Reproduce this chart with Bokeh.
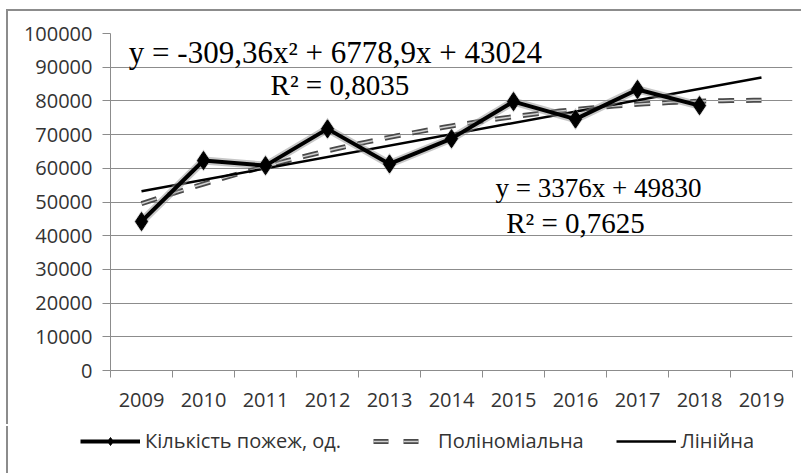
import numpy as np
from bokeh.plotting import figure
from bokeh.layouts import column
from bokeh.models import (Range1d, FixedTicker, PrintfTickFormatter, Legend, LegendItem,
                          Label, ColumnDataSource)
from bokeh.embed import file_html
from bokeh.resources import INLINE

# ---- data ----
years = [2009, 2010, 2011, 2012, 2013, 2014, 2015, 2016, 2017, 2018]
fires = [44200, 62300, 60800, 71700, 61300, 68800, 79800, 74600, 83400, 78600]
axis_years = [2009, 2010, 2011, 2012, 2013, 2014, 2015, 2016, 2017, 2018, 2019]
y_ticks = [0, 10000, 20000, 30000, 40000, 50000, 60000, 70000, 80000, 90000, 100000]
# trend-line coefficients as printed on the chart (x = 1 for 2009)
poly_coef = [-309.36, 6778.9, 43024]
lin_coef = [3376, 49830]
poly_eq = "y = -309,36x²  + 6778,9x + 43024"
poly_r2 = "R² = 0,8035"
lin_eq = "y = 3376x + 49830"
lin_r2 = "R² = 0,7625"
series_names = ["Кількість пожеж, од.", "Поліноміальна", "Лінійна"]

# trend lines evaluated from the printed equations over 2009..2019
x_idx = np.linspace(1, len(axis_years), 81)
trend_x = x_idx + axis_years[0] - 1
poly_y = np.polyval(poly_coef, x_idx)
lin_x = np.array([1, len(axis_years)]) + axis_years[0] - 1
lin_y = np.polyval(lin_coef, np.array([1, len(axis_years)]))

grid_col = "#8c8c8c"
label_col = "#333333"
tick_font = "Open Sans"
tick_size = "20px"

src = ColumnDataSource(dict(x=years, y=fires))
poly_src = ColumnDataSource(dict(x=trend_x, y=poly_y))
lin_src = ColumnDataSource(dict(x=lin_x, y=lin_y))


def draw_series(fig, dash):
    """Draw the three series on a figure; returns renderers for the legend."""
    po = fig.line("x", "y", source=poly_src, line_color="#4a4a4a", line_width=5,
                  line_dash=dash)
    pi = fig.line("x", "y", source=poly_src, line_color="#d0d0d0", line_width=1.5,
                  line_dash=dash)
    li = fig.line("x", "y", source=lin_src, line_color="black", line_width=2.5)
    fig.line("x", "y", source=src, line_color="#909090", line_width=8, line_alpha=0.5)
    fig.scatter("x", "y", source=src, marker="diamond", size=22, fill_color="#909090",
                line_color=None, fill_alpha=0.5)
    dl = fig.line("x", "y", source=src, line_color="black", line_width=4)
    dp = fig.scatter("x", "y", source=src, marker="diamond", size=18, fill_color="black",
                     line_color="black")
    return dl, dp, po, pi, li


p = figure(width=795, height=415, output_backend="svg", toolbar_location=None,
           x_range=Range1d(axis_years[0] - 0.5, axis_years[-1] + 0.5),
           y_range=Range1d(0, 100000),
           min_border_left=102, min_border_right=11, min_border_top=22, min_border_bottom=56)
p.frame_align = False
p.outline_line_color = None
p.background_fill_color = "white"
p.border_fill_color = "white"
p.styles = {"box-shadow": "-2px -2px 0px 0px #8c8c8c"}

# y axis
p.yaxis.ticker = FixedTicker(ticks=y_ticks)
p.yaxis.formatter = PrintfTickFormatter(format="%d")
p.yaxis.axis_line_color = grid_col
p.yaxis.major_tick_line_color = grid_col
p.yaxis.major_tick_out = 8
p.yaxis.major_tick_in = 0
p.yaxis.minor_tick_line_color = None
p.yaxis.major_label_standoff = 10
p.yaxis.major_label_text_font = tick_font
p.yaxis.major_label_text_font_size = tick_size
p.yaxis.major_label_text_color = label_col

# x axis: labels at centres, tick marks between categories
boundaries = [y - 0.5 for y in axis_years] + [axis_years[-1] + 0.5]
p.xaxis.ticker = FixedTicker(ticks=axis_years, minor_ticks=boundaries)
p.xaxis.major_label_overrides = {y: str(y) for y in axis_years}
p.xaxis.axis_line_color = grid_col
p.xaxis.major_tick_line_color = None
p.xaxis.major_tick_out = 0
p.xaxis.major_tick_in = 0
p.xaxis.minor_tick_line_color = grid_col
p.xaxis.minor_tick_out = 7
p.xaxis.minor_tick_in = 0
p.xaxis.major_label_standoff = 15
p.xaxis.major_label_text_font = tick_font
p.xaxis.major_label_text_font_size = tick_size
p.xaxis.major_label_text_color = label_col

p.xgrid.grid_line_color = None
p.ygrid.ticker = FixedTicker(ticks=y_ticks)
p.ygrid.grid_line_color = grid_col
p.ygrid.grid_line_width = 1

draw_series(p, "16 12")

# equations
eq_font = "Liberation Serif"
for txt, xx, yy, fs in [(poly_eq, 2012.19, 94300, "31px"), (poly_r2, 2012.2, 84600, "29px"),
                        (lin_eq, 2016.37, 54200, "27px"), (lin_r2, 2016.0, 43800, "29px")]:
    p.add_layout(Label(x=xx, y=yy, text=txt, text_font=eq_font, text_font_size=fs,
                       text_align="center", text_baseline="middle", text_color="black"))

# legend strip: same series, out of its view range, so only the legend shows
lg = figure(width=795, height=47, output_backend="svg", toolbar_location=None,
            x_range=Range1d(0, 1), y_range=Range1d(0, 1),
            x_axis_type=None, y_axis_type=None,
            min_border_left=0, min_border_right=0, min_border_top=0, min_border_bottom=0)
lg.frame_align = False
lg.outline_line_color = None
lg.xgrid.grid_line_color = None
lg.ygrid.grid_line_color = None
lg.border_fill_color = "white"
lg.styles = {"box-shadow": "-2px 0px 0px 0px #8c8c8c"}

k_line, k_pts, k_po, k_pi, k_lin = draw_series(lg, "15 15")

legend = Legend(items=[
    LegendItem(label=series_names[0], renderers=[k_line, k_pts]),
    LegendItem(label=series_names[1], renderers=[k_po, k_pi]),
    LegendItem(label=series_names[2], renderers=[k_lin]),
], orientation="horizontal", location=(72, 19), glyph_width=60, glyph_height=20,
    label_standoff=5, spacing=32, padding=0, margin=0, border_line_color=None,
    background_fill_alpha=0, label_text_font="Open Sans", label_text_font_size="20px",
    label_text_color=label_col, label_height=20)
lg.add_layout(legend, "center")

layout = column(p, lg, spacing=0, styles={"margin-left": "8px", "margin-top": "11px"})

open("out.html", "w").write(file_html(layout, INLINE))
